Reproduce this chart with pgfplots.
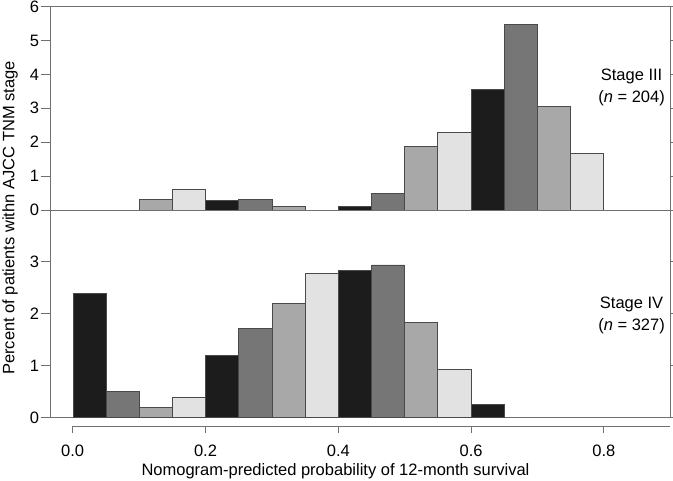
\documentclass[border=0pt]{standalone}
\usepackage{pgfplots}
\pgfplotsset{compat=1.18}
\usepackage{fontspec}
\setmainfont{Liberation Sans}
\definecolor{cBlack}{HTML}{1C1C1C}
\definecolor{cDark}{HTML}{767676}
\definecolor{cGray}{HTML}{A8A8A8}
\definecolor{cLight}{HTML}{E2E2E2}
\definecolor{cEdge}{HTML}{4A4A4A}
\definecolor{cAxis}{HTML}{707070}
\begin{document}
\begin{tikzpicture}[x=1pt,y=1pt]
\path[use as bounding box] (0,0) rectangle (673,-481);
\pgfplotsset{
 panel/.style={scale only axis, width=619.5pt, xmin=-0.034, xmax=0.9, ymin=0,
   xtick=\empty, ytick align=outside, major tick length=10pt,
   tick style={cAxis, line width=0.8pt}, axis line style={cAxis, line width=0.8pt},
   tick label style={font=\fontsize{16.5}{19}\selectfont},
   yticklabel style={xshift=2pt},
   /pgf/number format/assume math mode=true,
   anchor=south west,
   every axis plot/.append style={ybar, bar width=0.05, bar shift=0pt, draw=cEdge, line width=0.8pt}},
}
% upper panel: Stage III
\begin{axis}[panel, height=203.5pt, ymax=6, ytick={0,1,2,3,4,5,6}, at={(50.5pt,-210pt)}]
\addplot[fill=cBlack] coordinates {(0.225,0.29) (0.425,0.10) (0.625,3.55)};
\addplot[fill=cDark] coordinates {(0.275,0.31) (0.475,0.50) (0.675,5.48)};
\addplot[fill=cGray] coordinates {(0.125,0.31) (0.325,0.10) (0.525,1.88) (0.725,3.04)};
\addplot[fill=cLight] coordinates {(0.175,0.60) (0.575,2.28) (0.775,1.67)};
\node[align=center, font=\fontsize{16.5}{22}\selectfont] at (rel axis cs:0.938,0.6) {Stage III\\(\textit{n} = 204)};
\end{axis}
% lower panel: Stage IV
\begin{axis}[panel, height=207.5pt, ymax=4, ytick={0,1,2,3}, at={(50.5pt,-417.5pt)}]
\addplot[fill=cBlack] coordinates {(0.025,2.39) (0.225,1.19) (0.425,2.83) (0.625,0.26)};
\addplot[fill=cDark] coordinates {(0.075,0.50) (0.275,1.72) (0.475,2.94)};
\addplot[fill=cGray] coordinates {(0.125,0.19) (0.325,2.20) (0.525,1.84)};
\addplot[fill=cLight] coordinates {(0.175,0.385) (0.375,2.77) (0.575,0.93)};
\node[align=center, font=\fontsize{16.5}{22}\selectfont] at (rel axis cs:0.938,0.49) {Stage IV\\(\textit{n} = 327)};
\end{axis}
% separate x axis
\begin{axis}[scale only axis, width=597.6pt, height=10pt, xmin=0, xmax=0.9, ymin=0, ymax=1,
   anchor=south west, at={(72.7pt,-426pt)},
   axis x line*=bottom, axis y line=none, x axis line style={-, cAxis, line width=0.8pt},
   xtick={0,0.2,0.4,0.6,0.8}, xtick align=outside, major tick length=7pt,
   tick style={cAxis, line width=0.8pt},
   xticklabel style={font=\fontsize{16.5}{19}\selectfont, yshift=-8pt, /pgf/number format/fixed, /pgf/number format/fixed zerofill, /pgf/number format/precision=1},
   /pgf/number format/assume math mode=true]
\addplot[draw=none] coordinates {(0,0) (0.9,0)};
\end{axis}
\node[font=\fontsize{16.5}{19}\selectfont] at (335.5,-471) {Nomogram-predicted probability of 12-month survival};
\node[rotate=90, font=\fontsize{16.5}{19}\selectfont] at (10,-218) {Percent of patients withn AJCC TNM stage};
\end{tikzpicture}
\end{document}
